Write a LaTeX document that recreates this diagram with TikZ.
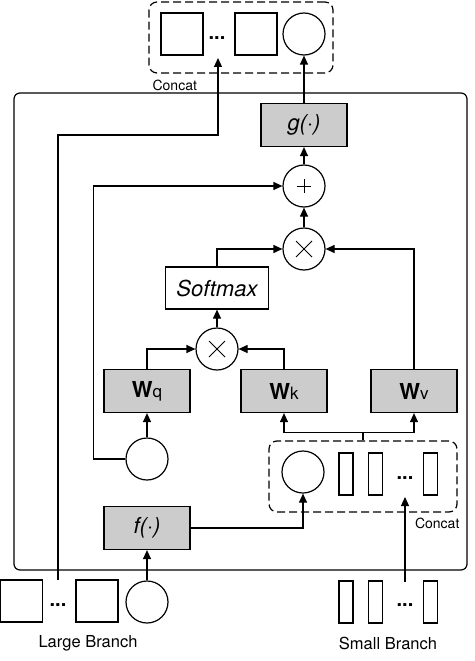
\documentclass[tikz,border=0pt]{standalone}
\usepackage{fontspec}
\setmainfont{TeX Gyre Heros}
\usetikzlibrary{arrows.meta,calc}
\definecolor{boxgray}{HTML}{CCCCCC}
\begin{document}
\begin{tikzpicture}[x=1pt,y=-1pt,line width=1.2pt,
	arr/.style={-{Triangle[length=9pt,width=8pt]}},
	opbox/.style={draw,fill=boxgray,minimum width=86pt,minimum height=43pt,inner sep=0pt,font=\fontsize{22}{22}\selectfont\itshape},
	wbox/.style={draw,fill=boxgray,minimum width=86pt,minimum height=43pt,inner sep=0pt},
	opcirc/.style={draw,circle,minimum size=42pt,inner sep=0pt,fill=white},
	mulcirc/.style={opcirc,path picture={
		\draw[line width=1pt] ($(path picture bounding box.center)+(-8,-8)$) -- ($(path picture bounding box.center)+(8,8)$);
		\draw[line width=1pt] ($(path picture bounding box.center)+(-8,8)$) -- ($(path picture bounding box.center)+(8,-8)$);}},
	pluscirc/.style={opcirc,path picture={
		\draw[line width=1pt] ($(path picture bounding box.center)+(-7,0)$) -- ($(path picture bounding box.center)+(7,0)$);
		\draw[line width=1pt] ($(path picture bounding box.center)+(0,-7)$) -- ($(path picture bounding box.center)+(0,7)$);}},
	sqr/.style={draw,minimum size=42pt,inner sep=0pt},
	bar/.style={draw,minimum width=14pt,minimum height=42pt,inner sep=0pt},
	dotsn/.style={inner sep=0pt,font=\fontsize{20}{20}\selectfont\bfseries},
	catbox/.style={draw,dashed,dash pattern=on 8pt off 4pt,rounded corners=8pt,inner sep=0pt},
	lbl/.style={inner sep=0pt,font=\fontsize{14}{14}\selectfont},
	brlbl/.style={inner sep=0pt,font=\fontsize{16.5}{16.5}\selectfont}]
	\useasboundingbox (0,0) rectangle (474,661);

	% outer block
	\draw[rounded corners=6pt] (14,93) rectangle (467,570);

	% top concat
	\node[catbox,minimum width=184pt,minimum height=71pt] (topcat) at (241,37.5) {};
	\node[sqr] (topsqa) at (182,34) {};
	\node[dotsn] (topdots) at (217,38) {...};
	\node[sqr] (topsqb) at (256,34) {};
	\node[opcirc] (topcirc) at (304,34) {};
	\node[lbl,anchor=west] (topcatlbl) at (152,85) {Concat};
	\coordinate (topin) at (218,58);

	% attention block
	\node[opbox] (g) at (304,125) {g(·)};
	\node[pluscirc] (plus) at (304,186) {};
	\node[mulcirc] (mula) at (304,249) {};
	\node[draw,fill=white,minimum width=103pt,minimum height=42pt,inner sep=0pt,font=\fontsize{22}{22}\selectfont\itshape] (softmax) at (217,288) {Softmax};
	\node[mulcirc] (mulb) at (217,349) {};
	\node[wbox] (wq) at (147,391) {{\fontsize{22}{22}\selectfont\bfseries W}{\fontsize{17}{17}\selectfont q}};
	\node[wbox] (wk) at (284,391) {{\fontsize{22}{22}\selectfont\bfseries W}{\fontsize{17}{17}\selectfont k}};
	\node[wbox] (wv) at (414,391) {{\fontsize{22}{22}\selectfont\bfseries W}{\fontsize{17}{17}\selectfont v}};
	\node[opcirc] (qcirc) at (147,459) {};
	\node[opbox] (f) at (147,528) {f(·)};

	% lower concat
	\node[catbox,minimum width=188pt,minimum height=71pt] (lowcat) at (363,476.5) {};
	\node[opcirc] (scirc) at (303,472) {};
	\node[bar] (sbara) at (346,474) {};
	\node[bar] (sbarb) at (375.5,474) {};
	\node[dotsn] (sdots) at (405,478) {...};
	\node[bar] (sbarc) at (430.5,474) {};
	\node[lbl,anchor=east] (lowcatlbl) at (460,523) {Concat};
	\coordinate (sin) at (405,497);

	% large branch
	\node[sqr] (lsqa) at (21.5,601) {};
	\node[dotsn] (ldots) at (58,605) {...};
	\node[sqr] (lsqb) at (97,601) {};
	\node[opcirc] (lcirc) at (147,602) {};
	\node[brlbl] (largelbl) at (88,643) {Large Branch};
	\coordinate (lout) at (58,580);

	% small branch
	\node[bar] (bara) at (346,602) {};
	\node[bar] (barb) at (375.5,602) {};
	\node[dotsn] (bdots) at (405,605) {...};
	\node[bar] (barc) at (430.5,602) {};
	\node[brlbl] (smalllbl) at (388,643) {Small Branch};
	\coordinate (sout) at (405,582);

	% connections
	\draw[arr] (lcirc) -- (f);
	\draw[arr] (f.east) -| (scirc.south);
	\draw[arr] (sout) -- (sin);
	\draw[arr] (lowcat.north) -- ++(0,-8) -| (wk.south);
	\draw[arr] (lowcat.north) -- ++(0,-8) -| (wv.south);
	\draw[arr] (qcirc) -- (wq);
	\draw[arr] (wq.north) |- (mulb.west);
	\draw[arr] (wk.north) |- (mulb.east);
	\draw[arr] (mulb) -- (softmax);
	\draw[arr] (softmax.north) |- (mula.west);
	\draw[arr] (wv.north) |- (mula.east);
	\draw[arr] (mula) -- (plus);
	\draw[arr] (qcirc.west) -- ++(-32,0) |- (plus.west);
	\draw[arr] (plus) -- (g);
	\draw[arr] (g) -- (topcirc);
	\draw[arr] (lout) -- ++(0,-445) -| (topin);
\end{tikzpicture}
\end{document}
